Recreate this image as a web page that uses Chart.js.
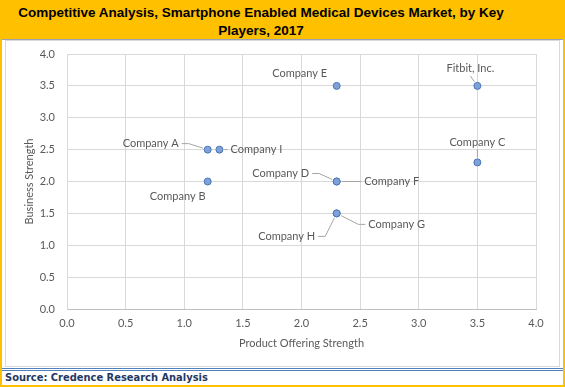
<!DOCTYPE html>
<html lang="en">
<head>
<meta charset="UTF-8">
<title>Competitive Analysis</title>
<script src="https://cdn.jsdelivr.net/npm/chart.js"></script>
<style>
  body { margin: 0; background: #fff; }
  #frame { position: relative; width: 565px; height: 387px; box-sizing: border-box; border: 2px solid #FFC000; overflow: hidden; }
  #title { position: absolute; left: -2px; top: -2px; width: 565px; height: 40px; background: #FFC000; border-top: 1px solid #9AA3B5; border-bottom: 1px solid #9AA3B5; box-sizing: border-box;
           font: bold 13.5px "Liberation Sans", Arial, sans-serif; color: #000; text-align: center; line-height: 18px; padding: 3px 43px 0 0; }
  #chartBox { position: absolute; left: 3px; top: 38px; width: 555px; height: 327px; box-sizing: border-box; border: 1px solid #D9D9D9; background: #fff; }
  #lines { position: absolute; left: 0; top: 366px; width: 561px; height: 3px; border-top: 1px solid #4F81BD; border-bottom: 1px solid #4F81BD; box-sizing: border-box; }
  #source { position: absolute; left: 3px; top: 369px; font: bold 11px "DejaVu Sans Condensed", "DejaVu Sans", sans-serif; font-stretch: condensed; color: #1F3864; }
</style>
</head>
<body>
<div id="frame">
  <div id="title">Competitive Analysis, Smartphone Enabled Medical Devices Market, by Key<br>Players, 2017</div>
  <div id="chartBox"><canvas id="chart" width="553" height="325"></canvas></div>
  <div id="lines"></div>
  <div id="source">Source: Credence Research Analysis</div>
</div>
<script>
  // Data
  const companies = ['Company E', 'Fitbit, Inc.', 'Company A', 'Company I', 'Company B', 'Company D', 'Company F', 'Company G', 'Company H', 'Company C'];
  const offeringStrength = [2.3, 3.5, 1.2, 1.3, 1.2, 2.3, 2.3, 2.3, 2.3, 3.5];
  const businessStrength = [3.5, 3.5, 2.5, 2.5, 2.0, 2.0, 2.0, 1.5, 1.5, 2.3];
  const axisTicks = [0, 0.5, 1, 1.5, 2, 2.5, 3, 3.5, 4];

  // label placement relative to its point: [dx, dy, leader line]
  const labelOffsets = [
    [-37, -12, false],
    [-7, -17, true],
    [-57, -6, true],
    [37, 0, true],
    [-30, 15, false],
    [-56, -8, true],
    [55, 0, true],
    [60, 11, true],
    [-50, 23, true],
    [0, -20, true]
  ];

  const points = offeringStrength.map((x, i) => ({ x: x, y: businessStrength[i] }));

  const labelPlugin = {
    id: 'pointLabels',
    beforeDatasetsDraw(chart) {
      const ctx = chart.ctx;
      const meta = chart.getDatasetMeta(0);
      ctx.save();
      ctx.font = '11px Lato';
      ctx.fillStyle = '#595959';
      ctx.strokeStyle = '#A6A6A6';
      ctx.lineWidth = 1;
      ctx.textAlign = 'center';
      ctx.textBaseline = 'middle';
      meta.data.forEach((pt, i) => {
        const [dx, dy, leader] = labelOffsets[i];
        const lx = pt.x + dx, ly = pt.y + dy;
        const w = ctx.measureText(companies[i]).width;
        if (leader) {
          const path = [];
          if (Math.abs(dx) < w / 2) {
            path.push([lx, ly + (dy < 0 ? 7 : -7)]);
          } else {
            const side = dx < 0 ? 1 : -1;
            const sx = lx + side * (w / 2 + 3);
            path.push([sx, ly]);
            if (Math.abs(dy) > 3) path.push([sx + side * 7, ly]);
          }
          const last = path[path.length - 1];
          const ang = Math.atan2(pt.y - last[1], pt.x - last[0]);
          path.push([pt.x - 5 * Math.cos(ang), pt.y - 5 * Math.sin(ang)]);
          ctx.beginPath();
          path.forEach((p, k) => k ? ctx.lineTo(p[0], p[1]) : ctx.moveTo(p[0], p[1]));
          ctx.stroke();
        }
        ctx.fillText(companies[i], lx, ly);
      });
      ctx.restore();
    }
  };

  new Chart(document.getElementById('chart'), {
    type: 'scatter',
    data: {
      datasets: [{
        data: points,
        pointRadius: 3.5,
        pointHoverRadius: 3.5,
        pointBorderWidth: 1,
        backgroundColor: '#7FA2D6',
        borderColor: '#4A76BC'
      }]
    },
    options: {
      responsive: false,
      animation: false,
      events: [],
      layout: { padding: { left: 0, right: 23, top: 13, bottom: 0 } },
      plugins: { legend: { display: false }, tooltip: { enabled: false } },
      scales: {
        x: {
          type: 'linear', min: 0, max: 4,
          afterBuildTicks: s => { s.ticks = axisTicks.map(v => ({ value: v })); },
          afterFit: s => { s.height = 57; },
          ticks: { color: '#595959', font: { family: 'Lato', size: 11 }, padding: 8, callback: v => v.toFixed(1) },
          grid: { color: '#D9D9D9', drawTicks: false },
          border: { color: '#BFBFBF' },
          title: { display: true, text: 'Product Offering Strength', color: '#595959', font: { family: 'Lato', size: 11 }, padding: { top: 0, bottom: 16 } }
        },
        y: {
          type: 'linear', min: 0, max: 4,
          afterBuildTicks: s => { s.ticks = axisTicks.map(v => ({ value: v })); },
          afterFit: s => { s.width = 61; s.paddingTop = 0; s.paddingBottom = 0; },
          ticks: { color: '#595959', font: { family: 'Lato', size: 11 }, padding: 12, callback: v => v.toFixed(1) },
          grid: { color: '#D9D9D9', drawTicks: false },
          border: { color: '#D9D9D9' },
          title: { display: true, text: 'Business Strength', color: '#595959', font: { family: 'Lato', size: 11 }, padding: { top: 17, bottom: 0 } }
        }
      }
    },
    plugins: [labelPlugin]
  });
</script>
</body>
</html>
